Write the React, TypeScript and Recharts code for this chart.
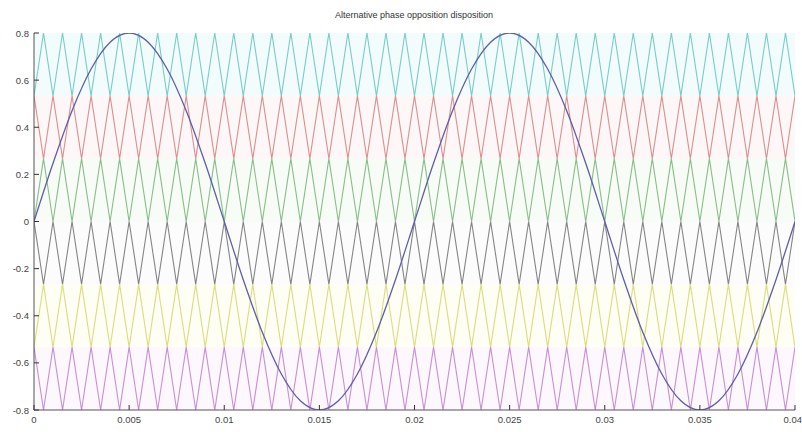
import { LineChart, Line, XAxis, YAxis, ReferenceArea } from "recharts"

// carrier vertex times (s) — peaks and troughs every half carrier period
const carrierTimes = [
  0, 0.0005, 0.001, 0.0015, 0.002, 0.0025, 0.003, 0.0035, 0.004, 0.0045,
  0.005, 0.0055, 0.006, 0.0065, 0.007, 0.0075, 0.008, 0.0085, 0.009, 0.0095,
  0.01, 0.0105, 0.011, 0.0115, 0.012, 0.0125, 0.013, 0.0135, 0.014, 0.0145,
  0.015, 0.0155, 0.016, 0.0165, 0.017, 0.0175, 0.018, 0.0185, 0.019, 0.0195,
  0.02, 0.0205, 0.021, 0.0215, 0.022, 0.0225, 0.023, 0.0235, 0.024, 0.0245,
  0.025, 0.0255, 0.026, 0.0265, 0.027, 0.0275, 0.028, 0.0285, 0.029, 0.0295,
  0.03, 0.0305, 0.031, 0.0315, 0.032, 0.0325, 0.033, 0.0335, 0.034, 0.0345,
  0.035, 0.0355, 0.036, 0.0365, 0.037, 0.0375, 0.038, 0.0385, 0.039, 0.0395,
  0.04,
]

// carrier bands, top to bottom: [low, high, value at t = 0]
const carrierNames = ["cyan", "red", "green", "black", "yellow", "magenta"]
const carrierLow = [0.5333, 0.2667, 0, -0.2667, -0.5333, -0.8]
const carrierHigh = [0.8, 0.5333, 0.2667, 0, -0.2667, -0.5333]
const carrierStartsHigh = [false, true, false, true, false, true]
const carrierColors = ["#78cdc8", "#db9090", "#8abd8a", "#858585", "#dcdc80", "#c890d4"]
const bandTints = ["#bff0f0", "#f8d0d0", "#d4f0d4", "#eeeeee", "#fbfbc8", "#f3d4f8"]

// reference sine, read every 1 ms
const sineTimes = [
  0, 0.001, 0.002, 0.003, 0.004, 0.005, 0.006, 0.007, 0.008, 0.009,
  0.01, 0.011, 0.012, 0.013, 0.014, 0.015, 0.016, 0.017, 0.018, 0.019,
  0.02, 0.021, 0.022, 0.023, 0.024, 0.025, 0.026, 0.027, 0.028, 0.029,
  0.03, 0.031, 0.032, 0.033, 0.034, 0.035, 0.036, 0.037, 0.038, 0.039,
  0.04,
]
const sineValues = [
  0, 0.247, 0.47, 0.647, 0.761, 0.8, 0.761, 0.647, 0.47, 0.247,
  0, -0.247, -0.47, -0.647, -0.761, -0.8, -0.761, -0.647, -0.47, -0.247,
  0, 0.247, 0.47, 0.647, 0.761, 0.8, 0.761, 0.647, 0.47, 0.247,
  0, -0.247, -0.47, -0.647, -0.761, -0.8, -0.761, -0.647, -0.47, -0.247,
  0,
]

const xTicks = [0, 0.005, 0.01, 0.015, 0.02, 0.025, 0.03, 0.035, 0.04]
const yTicks = [-0.8, -0.6, -0.4, -0.2, 0, 0.2, 0.4, 0.6, 0.8]

const rows = carrierTimes.map((t, i) => {
  const row: Record<string, number | undefined> = { t }
  carrierNames.forEach((name, k) => {
    const high = carrierStartsHigh[k] ? i % 2 === 0 : i % 2 === 1
    row[name] = high ? carrierHigh[k] : carrierLow[k]
  })
  const s = sineTimes.findIndex((st) => Math.abs(st - t) < 1e-9)
  row.sine = s >= 0 ? sineValues[s] : undefined
  return row
})

const font = "'Liberation Sans', Arial, sans-serif"
const tickColor = "#333"
const TICK = 5

const BottomTick = ({ x, y, payload }: any) => {
  // last label sits on the right edge, keep it inside the picture
  const last = payload.value === xTicks[xTicks.length - 1]
  return (
    <g>
      <line x1={x} x2={x} y1={y} y2={y - TICK} stroke={tickColor} />
      <text
        x={last ? x + 7 : x}
        y={y + 13}
        textAnchor={last ? "end" : "middle"}
        fontSize={9.5}
        fill="#444"
        fontFamily={font}
      >
        {String(payload.value)}
      </text>
    </g>
  )
}

const TopTick = ({ x, y }: any) => (
  <line x1={x} x2={x} y1={y} y2={y + TICK} stroke={tickColor} />
)

const LeftTick = ({ x, y, payload }: any) => (
  <g>
    <line x1={x} x2={x + TICK} y1={y} y2={y} stroke={tickColor} />
    <text x={x - 5} y={y + 3.5} textAnchor="end" fontSize={9.5} fill="#444" fontFamily={font}>
      {String(payload.value)}
    </text>
  </g>
)

const RightTick = ({ x, y }: any) => (
  <line x1={x} x2={x - TICK} y1={y} y2={y} stroke={tickColor} />
)

export default function App() {
  return (
    <div style={{ position: "absolute", left: 0, top: 0, width: 802, height: 437, background: "#fff" }}>
      <LineChart
        width={802}
        height={437}
        data={rows}
        margin={{ top: 33, right: 7, bottom: 0, left: 0 }}
      >
        <text x={414} y={18} textAnchor="middle" fontSize={9} fill="#333" fontFamily={font}>
          Alternative phase opposition disposition
        </text>
        {carrierNames.map((name, k) => (
          <ReferenceArea
            key={"band-" + name}
            x1={0}
            x2={0.04}
            y1={carrierLow[k]}
            y2={carrierHigh[k]}
            fill={bandTints[k]}
            fillOpacity={0.18}
            stroke="none"
            ifOverflow="hidden"
          />
        ))}
        <XAxis
          dataKey="t"
          type="number"
          domain={[0, 0.04]}
          ticks={xTicks}
          height={27}
          tickSize={0}
          tickMargin={0}
          tickLine={false}
          axisLine={{ stroke: "#555" }}
          tick={<BottomTick />}
          interval={0}
          allowDataOverflow
        />
        <XAxis
          xAxisId="top"
          orientation="top"
          dataKey="t"
          type="number"
          domain={[0, 0.04]}
          ticks={xTicks}
          height={0}
          tickSize={0}
          tickMargin={0}
          tickLine={false}
          axisLine={{ stroke: "#555" }}
          tick={<TopTick />}
          interval={0}
          allowDataOverflow
        />
        <YAxis
          type="number"
          domain={[-0.8, 0.8]}
          ticks={yTicks}
          width={34}
          tickSize={0}
          tickMargin={0}
          tickLine={false}
          axisLine={{ stroke: "#555" }}
          tick={<LeftTick />}
          interval={0}
          allowDataOverflow
        />
        <YAxis
          yAxisId="right"
          orientation="right"
          type="number"
          domain={[-0.8, 0.8]}
          ticks={yTicks}
          width={0}
          tickSize={0}
          tickMargin={0}
          tickLine={false}
          axisLine={{ stroke: "#555" }}
          tick={<RightTick />}
          interval={0}
          allowDataOverflow
        />
        {carrierNames.map((name, k) => (
          <Line
            key={name}
            type="linear"
            dataKey={name}
            stroke={carrierColors[k]}
            strokeWidth={1.1}
            dot={false}
            isAnimationActive={false}
          />
        ))}
        <Line
          type="monotone"
          dataKey="sine"
          stroke="#5e5eaa"
          strokeWidth={1.3}
          dot={false}
          connectNulls
          isAnimationActive={false}
        />
      </LineChart>
    </div>
  )
}
